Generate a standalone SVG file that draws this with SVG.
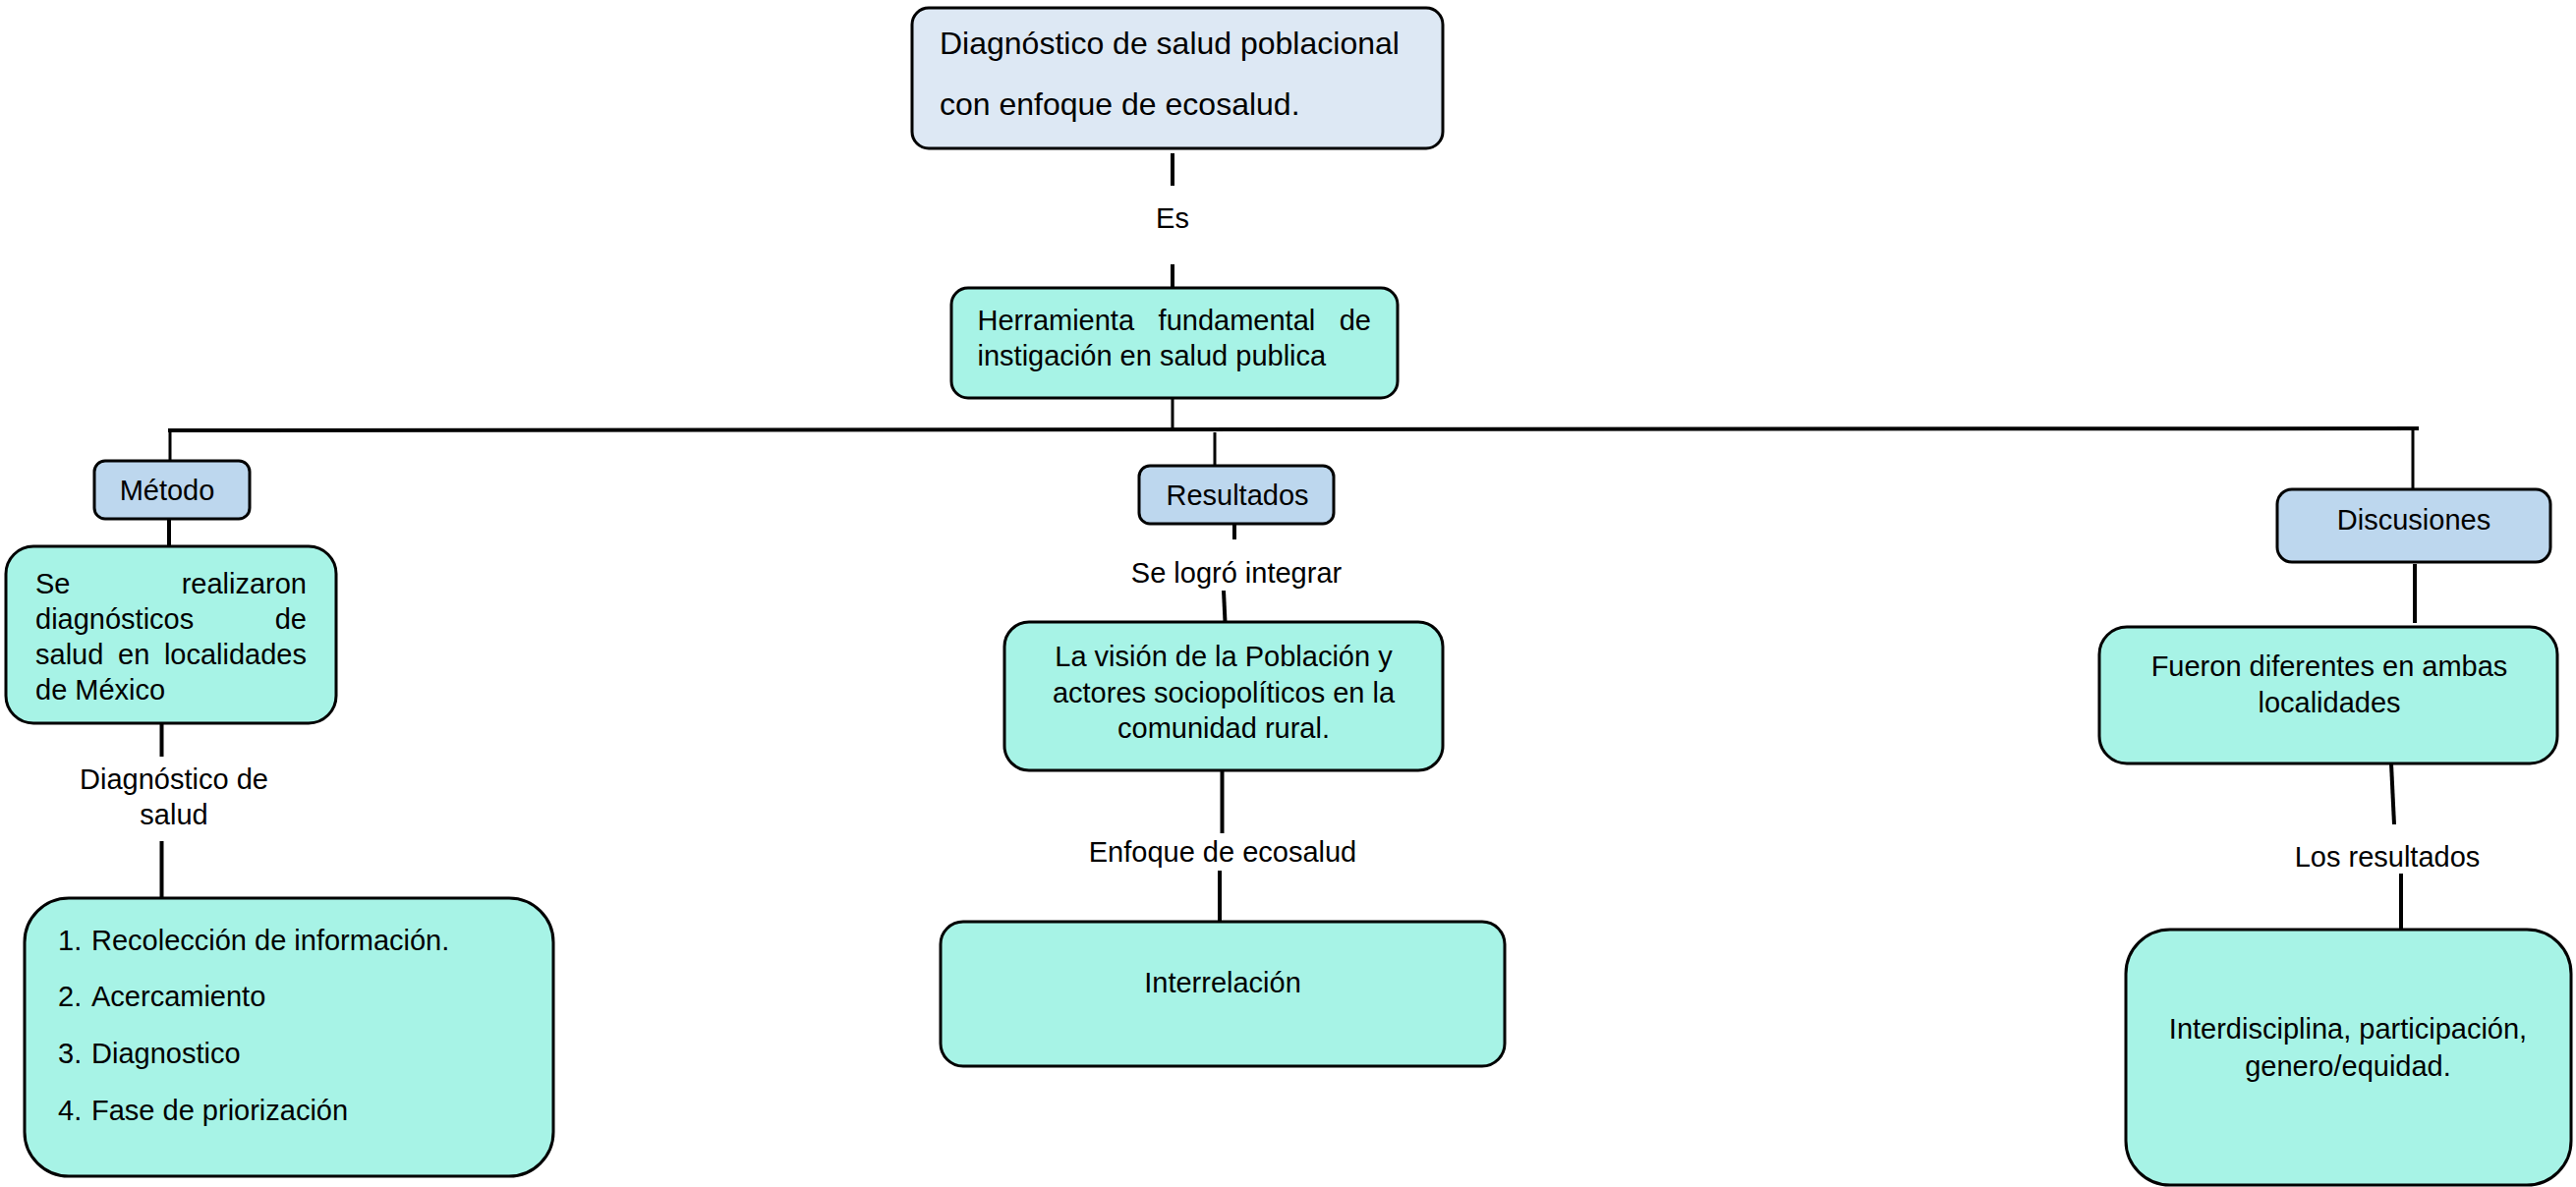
<svg xmlns="http://www.w3.org/2000/svg" width="2621" height="1208" viewBox="0 0 2621 1208">
<style>
text{font-family:"Liberation Sans",Arial,sans-serif;font-size:29px;fill:#000}
.c{text-anchor:middle}
.e{text-anchor:end}
.big{font-size:32px}
.top{fill:#dde8f4;stroke:#000;stroke-width:3}
.blue{fill:#bdd7ee;stroke:#000;stroke-width:3}
.teal{fill:#a7f3e6;stroke:#000;stroke-width:3}
.ln{stroke:#000;stroke-width:4;fill:none}
.thin{stroke:#000;stroke-width:3;fill:none}
</style>
<rect width="2621" height="1208" fill="#fff"/>
<g id="connectors">
<line class="ln" x1="1193" y1="156" x2="1193" y2="189"/>
<line class="ln" x1="1193" y1="269" x2="1193" y2="293"/>
<line class="thin" x1="1193" y1="405" x2="1193" y2="438"/>
<line class="ln" x1="171" y1="438" x2="2461" y2="436"/>
<line class="thin" x1="173" y1="436" x2="173" y2="469"/>
<line class="thin" x1="1236" y1="440" x2="1236" y2="474"/>
<line class="thin" x1="2455" y1="438" x2="2455" y2="498"/>
<line class="ln" x1="172" y1="528" x2="172" y2="556"/>
<line class="ln" x1="164.5" y1="736" x2="164.5" y2="770"/>
<line class="ln" x1="164.5" y1="856" x2="164.5" y2="914"/>
<line class="ln" x1="1256" y1="533" x2="1256" y2="549"/>
<line class="ln" x1="1245" y1="601" x2="1246.5" y2="633"/>
<line class="ln" x1="1243.5" y1="784" x2="1243.5" y2="848"/>
<line class="ln" x1="1241" y1="886" x2="1241" y2="938"/>
<line class="ln" x1="2457" y1="574" x2="2457" y2="634"/>
<line class="ln" x1="2433" y1="777" x2="2436" y2="839"/>
<line class="ln" x1="2443" y1="889" x2="2443" y2="946"/>
</g>
<g id="n-top">
<rect class="top" x="928" y="8" width="540" height="143" rx="17"/>
<text class="big" x="956" y="55">Diagnóstico de salud poblacional</text>
<text class="big" x="956" y="117">con enfoque de ecosalud.</text>
</g>
<g id="l-es"><text class="c" x="1193" y="232">Es</text></g>
<g id="n-herramienta">
<rect class="teal" x="968" y="293" width="454" height="112" rx="17"/>
<text x="994.5" y="336">Herramienta</text>
<text x="1178.6" y="336">fundamental</text>
<text class="e" x="1395" y="336">de</text>
<text x="994.5" y="372">instigación en salud publica</text>
</g>
<g id="n-metodo">
<rect class="blue" x="96" y="469" width="158" height="59" rx="11"/>
<text class="c" x="170" y="509">Método</text>
</g>
<g id="n-realizaron">
<rect class="teal" x="6" y="556" width="336" height="180" rx="28"/>
<text x="36" y="604">Se</text>
<text class="e" x="312" y="604">realizaron</text>
<text x="36" y="640">diagnósticos</text>
<text class="e" x="312" y="640">de</text>
<text x="36" y="676">salud</text>
<text x="120" y="676">en</text>
<text class="e" x="312" y="676">localidades</text>
<text x="36" y="712">de México</text>
</g>
<g id="l-diag">
<text class="c" x="177" y="803">Diagnóstico de</text>
<text class="c" x="177" y="839">salud</text>
</g>
<g id="n-lista">
<rect class="teal" x="25" y="914" width="538" height="283" rx="45"/>
<text x="59" y="967">1.</text><text x="93" y="967">Recolección de información.</text>
<text x="59" y="1024">2.</text><text x="93" y="1024">Acercamiento</text>
<text x="59" y="1082">3.</text><text x="93" y="1082">Diagnostico</text>
<text x="59" y="1140">4.</text><text x="93" y="1140">Fase de priorización</text>
</g>
<g id="n-resultados">
<rect class="blue" x="1159" y="474" width="198" height="59" rx="11"/>
<text class="c" x="1259" y="514">Resultados</text>
</g>
<g id="l-logro"><text class="c" x="1258" y="593">Se logró integrar</text></g>
<g id="n-vision">
<rect class="teal" x="1022" y="633" width="446" height="151" rx="25"/>
<text class="c" x="1245" y="678">La visión de la Población y</text>
<text class="c" x="1245" y="715">actores sociopolíticos en la</text>
<text class="c" x="1245" y="751">comunidad rural.</text>
</g>
<g id="l-enfoque"><text class="c" x="1244" y="877">Enfoque de ecosalud</text></g>
<g id="n-interrelacion">
<rect class="teal" x="957" y="938" width="574" height="147" rx="23"/>
<text class="c" x="1244" y="1010">Interrelación</text>
</g>
<g id="n-discusiones">
<rect class="blue" x="2317" y="498" width="278" height="74" rx="15"/>
<text class="c" x="2456" y="539">Discusiones</text>
</g>
<g id="n-fueron">
<rect class="teal" x="2136" y="638" width="466" height="139" rx="28"/>
<text class="c" x="2370" y="688">Fueron diferentes en ambas</text>
<text class="c" x="2370" y="725">localidades</text>
</g>
<g id="l-losres"><text class="c" x="2429" y="882">Los resultados</text></g>
<g id="n-interdisciplina">
<rect class="teal" x="2163" y="946" width="453" height="260" rx="45"/>
<text class="c" x="2389" y="1057">Interdisciplina, participación,</text>
<text class="c" x="2389" y="1095">genero/equidad.</text>
</g>
</svg>
